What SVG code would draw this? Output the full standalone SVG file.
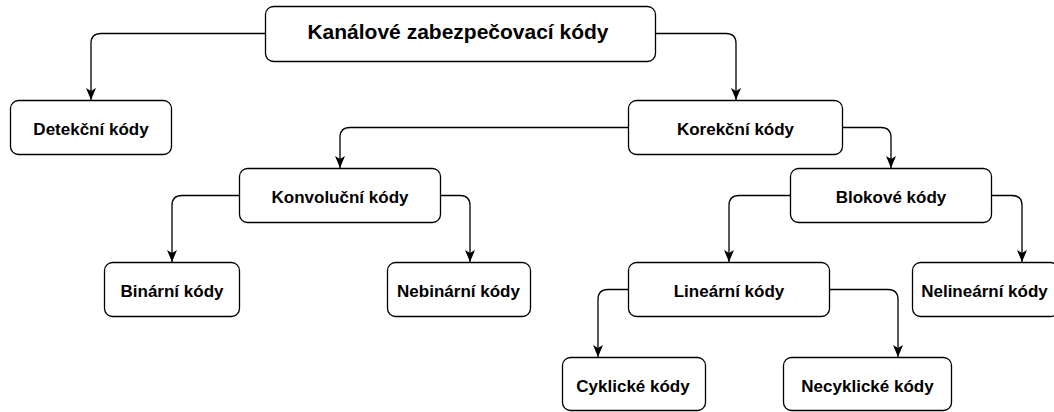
<svg xmlns="http://www.w3.org/2000/svg" width="1054" height="412" viewBox="0 0 1054 412">
  <style>
    .box { fill: #ffffff; stroke: #000000; stroke-width: 1.3; }
    .lbl { font-family: "Liberation Sans", Arial, Helvetica, sans-serif; font-weight: bold; font-size: 17px; fill: #000000; text-anchor: middle; }
    .title { font-size: 21px; }
    .edge { fill: none; stroke: #000000; stroke-width: 1.3; marker-end: url(#arrow); }
  </style>
  <defs>
    <marker id="arrow" markerUnits="userSpaceOnUse" viewBox="0 0 12 10" markerWidth="12" markerHeight="10" refX="12" refY="5" orient="auto">
      <path d="M0,0 L12,5 L0,10 L3,5 Z" fill="#000000"/>
    </marker>
  </defs>

  <rect width="1054" height="412" fill="#ffffff"/>

  <!-- connectors -->
  <g id="connectors">
    <path class="edge" d="M265.5,33.5 H101 Q91,33.5 91,43.5 V100"/>
    <path class="edge" d="M655.5,33.5 H726 Q736,33.5 736,43.5 V100"/>
    <path class="edge" d="M628.5,127.5 H350 Q340,127.5 340,137.5 V168"/>
    <path class="edge" d="M842.5,127.5 H881 Q891,127.5 891,137.5 V168"/>
    <path class="edge" d="M239.5,195.5 H182 Q172,195.5 172,205.5 V262"/>
    <path class="edge" d="M440.5,195.5 H460 Q470,195.5 470,205.5 V262"/>
    <path class="edge" d="M790.5,195.5 H739 Q729,195.5 729,205.5 V262"/>
    <path class="edge" d="M991.5,195.5 H1012 Q1022,195.5 1022,205.5 V262"/>
    <path class="edge" d="M628.5,289.5 H608 Q598,289.5 598,299.5 V357"/>
    <path class="edge" d="M829.5,289.5 H888 Q898,289.5 898,299.5 V357"/>
  </g>

  <!-- nodes -->
  <g id="kanalove">
    <rect class="box" x="265.5" y="6.5" width="390" height="55" rx="8"/>
    <text class="lbl title" x="458" y="38.5">Kanálové zabezpečovací kódy</text>
  </g>
  <g id="detekcni">
    <rect class="box" x="10.5" y="100.5" width="161" height="54" rx="8"/>
    <text class="lbl" x="91" y="135">Detekční kódy</text>
  </g>
  <g id="korekcni">
    <rect class="box" x="628.5" y="100.5" width="214" height="54" rx="8"/>
    <text class="lbl" x="735.5" y="135">Korekční kódy</text>
  </g>
  <g id="konvolucni">
    <rect class="box" x="239.5" y="168.5" width="201" height="54" rx="8"/>
    <text class="lbl" x="340" y="203">Konvoluční kódy</text>
  </g>
  <g id="blokove">
    <rect class="box" x="790.5" y="168.5" width="201" height="54" rx="8"/>
    <text class="lbl" x="891" y="203">Blokové kódy</text>
  </g>
  <g id="binarni">
    <rect class="box" x="104.5" y="262.5" width="135" height="54" rx="8"/>
    <text class="lbl" x="172" y="297">Binární kódy</text>
  </g>
  <g id="nebinarni">
    <rect class="box" x="387.5" y="262.5" width="143" height="54" rx="8"/>
    <text class="lbl" x="458.5" y="297">Nebinární kódy</text>
  </g>
  <g id="linearni">
    <rect class="box" x="628.5" y="262.5" width="201" height="54" rx="8"/>
    <text class="lbl" x="729" y="297">Lineární kódy</text>
  </g>
  <g id="nelinearni">
    <rect class="box" x="912.5" y="262.5" width="146" height="54" rx="8"/>
    <text class="lbl" x="984.5" y="297">Nelineární kódy</text>
  </g>
  <g id="cyklicke">
    <rect class="box" x="562.5" y="357.5" width="143" height="53" rx="8"/>
    <text class="lbl" x="633" y="391.5">Cyklické kódy</text>
  </g>
  <g id="necyklicke">
    <rect class="box" x="783.5" y="357.5" width="168" height="53" rx="8"/>
    <text class="lbl" x="867.5" y="391.5">Necyklické kódy</text>
  </g>
</svg>
